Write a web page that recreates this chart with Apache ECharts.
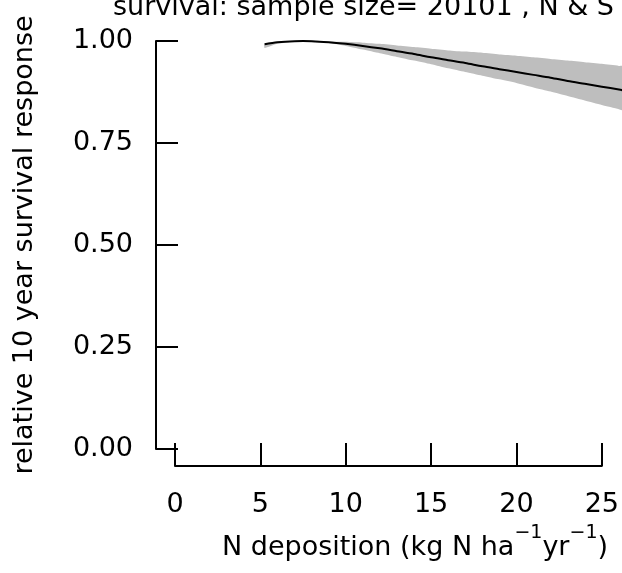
<!DOCTYPE html>
<html>
<head>
<meta charset="utf-8">
<script src="https://cdn.jsdelivr.net/npm/echarts@6/dist/echarts.min.js"></script>
<style>
  html, body { margin: 0; padding: 0; background: #ffffff; overflow: hidden; }
  #chart { width: 622px; height: 573px; }
</style>
</head>
<body>
<div id="chart"></div>
<script>
// N deposition (kg N ha-1 yr-1) at which the response curve is evaluated
const nDeposition = [5.25, 6, 7, 8, 9, 10, 11, 12, 13, 14, 15, 16, 17, 18, 19, 20, 21, 22, 23, 24, 25, 26, 26.5];
// fitted relative 10 year survival response
const survivalFit = [0.992, 0.997, 0.9995, 0.9995, 0.997, 0.993, 0.988, 0.982, 0.975, 0.968, 0.960, 0.953, 0.946, 0.938, 0.931, 0.924, 0.917, 0.910, 0.902, 0.895, 0.888, 0.881, 0.877];
// upper and lower confidence limits
const survivalUpper = [0.994, 0.998, 1.000, 1.001, 0.999, 0.998, 0.996, 0.993, 0.989, 0.985, 0.981, 0.977, 0.974, 0.971, 0.967, 0.964, 0.960, 0.956, 0.952, 0.948, 0.944, 0.939, 0.937];
const survivalLower = [0.983, 0.993, 0.998, 0.998, 0.995, 0.988, 0.979, 0.970, 0.961, 0.952, 0.943, 0.933, 0.924, 0.915, 0.906, 0.897, 0.886, 0.876, 0.865, 0.854, 0.843, 0.833, 0.828];

const xTicks = [0, 5, 10, 15, 20, 25];
const yTicks = [0, 0.25, 0.5, 0.75, 1];

const titleText = 'survival: sample size= 20101 , N & S';
const xTitleText = '{m|N deposition (kg N ha}{s|\u22121}{m|yr}{s|\u22121}{m|)}';
const yTitleText = 'relative 10 year survival response';

const FONT = '"DejaVu Sans", "Liberation Sans", Arial, sans-serif';

const chart = echarts.init(document.getElementById('chart'), null, { renderer: 'canvas' });

const axisLineStyle = { color: '#000', width: 2 };
const labelStyle = { color: '#000', fontSize: 27, fontFamily: FONT };

// The curve runs past the last tick, so it is drawn with custom series
// (no clipping to the grid) using the axes' own coordinate mapping.
function bandRender(params, api) {
  const upper = nDeposition.map((x, i) => api.coord([x, survivalUpper[i]]));
  const lower = nDeposition.map((x, i) => api.coord([x, survivalLower[i]])).reverse();
  return {
    type: 'polygon',
    shape: { points: upper.concat(lower), smooth: 0.2 },
    style: { fill: '#bebebe', stroke: null }
  };
}

function fitRender(params, api) {
  const pts = nDeposition.map((x, i) => api.coord([x, survivalFit[i]]));
  return {
    type: 'polyline',
    shape: { points: pts, smooth: 0.3 },
    style: { stroke: '#000', lineWidth: 2, fill: null }
  };
}

chart.setOption({
  animation: false,
  backgroundColor: '#ffffff',
  grid: { left: 175, right: 18.4, top: 41, height: 408, containLabel: false },
  xAxis: {
    type: 'value',
    min: xTicks[0],
    max: xTicks[xTicks.length - 1],
    interval: 5,
    offset: 17,
    axisLine: { show: true, onZero: false, lineStyle: axisLineStyle },
    axisTick: { show: true, inside: true, length: 23, lineStyle: axisLineStyle },
    splitLine: { show: false },
    axisLabel: Object.assign({}, labelStyle, { margin: 25, showMinLabel: true, showMaxLabel: true })
  },
  yAxis: {
    type: 'value',
    min: yTicks[0],
    max: yTicks[yTicks.length - 1],
    interval: 0.25,
    offset: 19,
    axisLine: { show: true, onZero: false, lineStyle: axisLineStyle },
    axisTick: { show: true, inside: true, length: 22, lineStyle: axisLineStyle },
    splitLine: { show: false },
    axisLabel: Object.assign({}, labelStyle, {
      margin: 23,
      formatter: (v) => v.toFixed(2)
    })
  },
  series: [
    {
      name: 'confidence band',
      type: 'custom',
      clip: false,
      data: [[nDeposition[0], survivalFit[0]]],
      encode: { x: 0, y: 1 },
      renderItem: bandRender,
      z: 1
    },
    {
      name: 'fit',
      type: 'custom',
      clip: false,
      data: [[nDeposition[0], survivalFit[0]]],
      encode: { x: 0, y: 1 },
      renderItem: fitRender,
      z: 3
    }
  ],
  graphic: [
    {
      type: 'text',
      x: 113,
      y: 7.5,
      z: 10,
      style: { text: titleText, fill: '#000', font: '27px ' + FONT, align: 'left', verticalAlign: 'middle' }
    },
    {
      type: 'text',
      x: 25,
      y: 245,
      z: 10,
      rotation: Math.PI / 2,
      style: {
        text: yTitleText, fill: '#000', font: '27px ' + FONT,
        align: 'center', verticalAlign: 'middle'
      }
    },
    {
      type: 'text',
      x: 415,
      y: 561,
      z: 10,
      style: {
        text: xTitleText,
        align: 'center',
        verticalAlign: 'bottom',
        rich: {
          m: { fontSize: 27, fontFamily: FONT, fill: '#000', verticalAlign: 'bottom' },
          s: { fontSize: 19, fontFamily: FONT, fill: '#000', verticalAlign: 'bottom', padding: [0, 0, 18, 0] }
        }
      }
    }
  ]
});
</script>
</body>
</html>
